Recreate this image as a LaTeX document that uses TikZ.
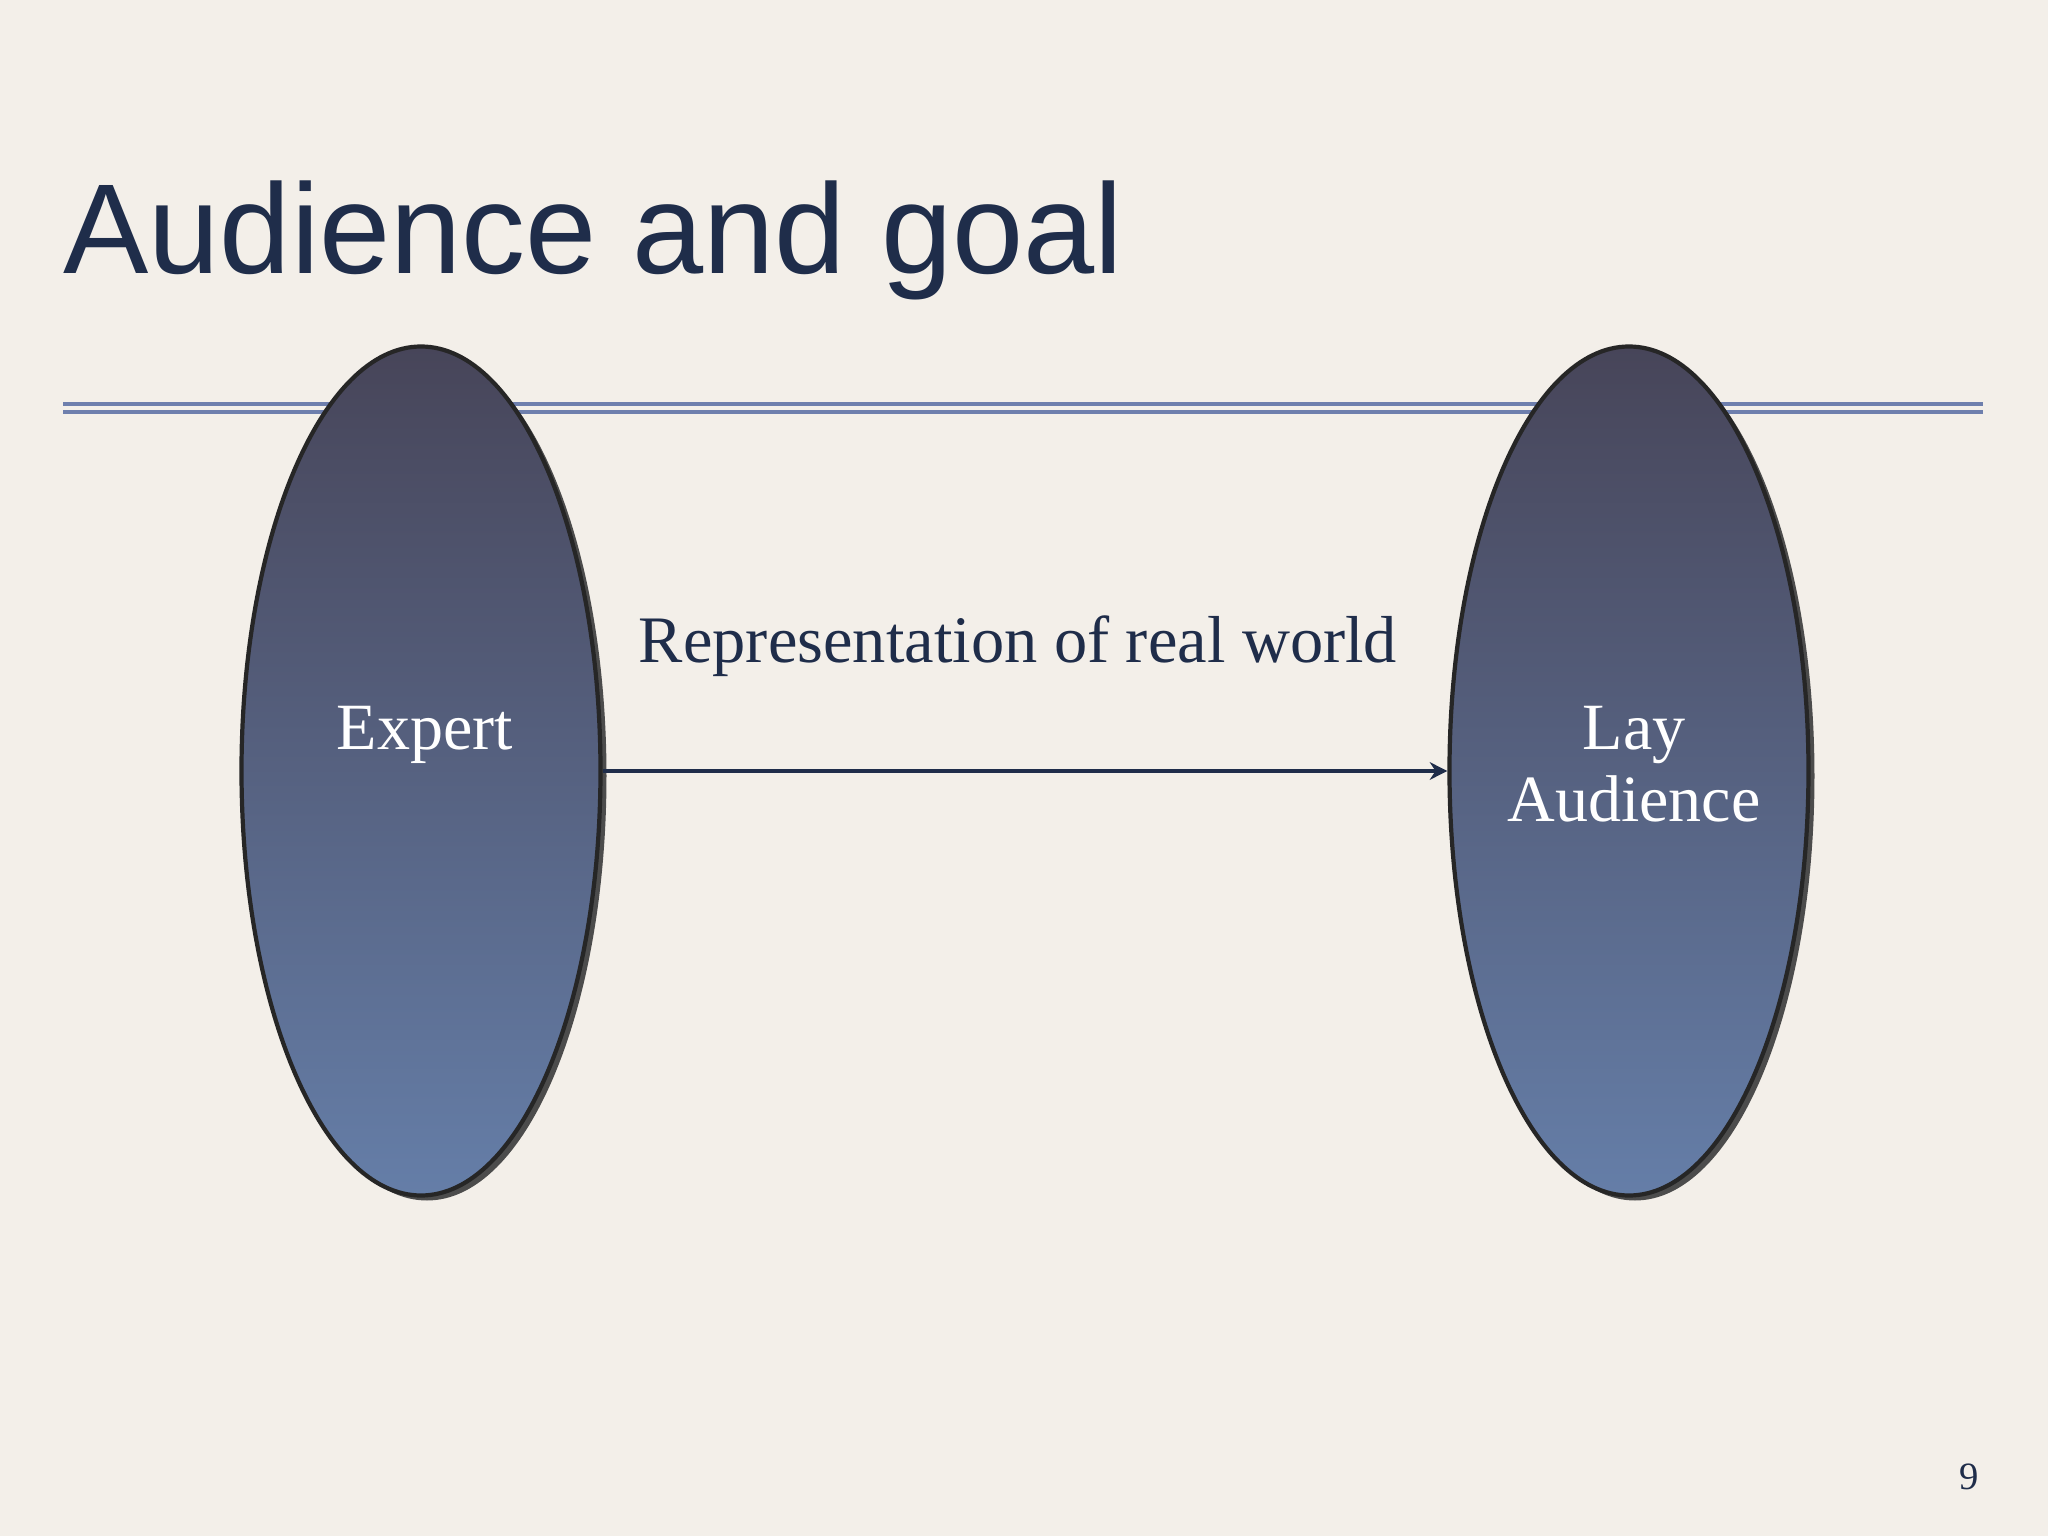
\documentclass[tikz,border=0pt]{standalone}
\usepackage{fontspec}
\setmainfont{Liberation Serif}
\newfontfamily\headfont{Liberation Sans}
\usepackage{tikz}
\usetikzlibrary{arrows.meta, shapes.geometric, shadows}

\definecolor{paper}{RGB}{243,239,233}
\definecolor{navy}{RGB}{31,45,74}
\definecolor{rule}{RGB}{110,127,173}
\definecolor{ovaltop}{RGB}{71,69,89}
\definecolor{ovalbot}{RGB}{101,126,168}

\tikzset{
    oval/.style={ellipse, draw=black!85, line width=1.2pt,
        minimum width=3.59cm, minimum height=8.49cm, inner sep=0pt,
        top color=ovaltop, bottom color=ovalbot,
        drop shadow={shadow xshift=0.06cm, shadow yshift=-0.05cm, fill=black!70, opacity=1}},
    ovaltext/.style={text=white, align=center, font=\fontsize{18.8}{20.5}\selectfont},
    link/.style={draw=navy, line width=1.1pt, -{Stealth[length=5pt, width=5pt]}}
}

\begin{document}
\begin{tikzpicture}
        \useasboundingbox (0,0) rectangle (20.48,-15.36);
        \fill[paper] (0,0) rectangle (20.48,-15.36);

        \coordinate (E) at (4.21,-7.71);
        \coordinate (L) at (16.29,-7.71);

        % rules under the heading
        \draw[rule, line width=1.4pt] (0.63,-4.04) -- (19.83,-4.04);
        \draw[rule, line width=1.4pt] (0.63,-4.12) -- (19.83,-4.12);

        \node[anchor=base west, text=navy, font=\headfont\fontsize{36.4}{40}\selectfont] (title) at (0.51,-2.74) {Audience and goal};

        \node[oval] (expert) at (E) {};
        \node[oval] (lay) at (L) {};
        \node[ovaltext, anchor=base] (experttext) at ([xshift=0.04cm, yshift=0.21cm]expert.center) {Expert};
        \node[ovaltext] (laytext) at ([xshift=0.05cm, yshift=0.07cm]lay.center) {Lay\\Audience};

        \draw[link] (expert.east) -- (lay.west)
            node[midway, anchor=base, yshift=1.08cm, xshift=-0.07cm, text=navy, font=\fontsize{18.9}{21}\selectfont] (goal) {Representation of real world};

        \node[anchor=base, text=navy, font=\fontsize{11}{12}\selectfont] (page) at (19.69,-14.89) {9};

    \end{tikzpicture}
\end{document}
